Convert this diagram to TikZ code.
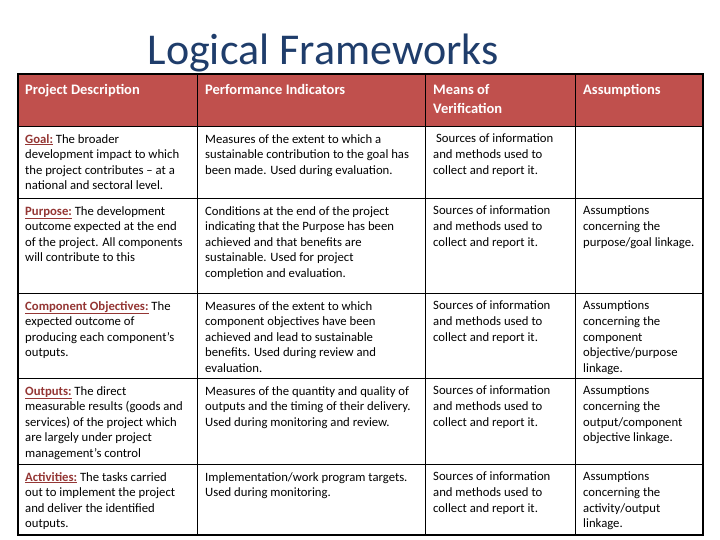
\documentclass[tikz,border=0pt]{standalone}
\usepackage{fontspec}
\setmainfont{Carlito}
\definecolor{hdr}{HTML}{C0504D}
\definecolor{ttl}{HTML}{1F3D6B}
\definecolor{lab}{HTML}{943634}
\begin{document}
\begin{tikzpicture}[x=1pt,y=-1pt,
  cell/.style={anchor=north west,inner sep=0pt,align=left,font=\fontsize{12.7}{15.6}\selectfont},
  head/.style={anchor=north west,inner sep=0pt,align=left,text=white,font=\bfseries\fontsize{14.5}{19}\selectfont}]
\useasboundingbox (0,0) rectangle (720,540);
\fill[white] (0,0) rectangle (720,540);
\node[text=ttl,font=\fontsize{44}{48}\selectfont] (title) at (323,53) {Logical Frameworks};
\fill[hdr] (18,74) rectangle (703,126);
\foreach \y in {126,198,293,378,464} \draw[line width=0.8pt] (18,\y) -- (703,\y);
\foreach \x in {197,425,575} \draw[line width=0.8pt] (\x,74) -- (\x,535);
\draw[line width=2pt] (18,74) rectangle (703,535);
\newcommand{\lb}[1]{\textcolor{lab}{\bfseries\underline{#1}}}
\node[head] (h1) at (25,84) {Project Description};
\node[head] (h2) at (205,84) {Performance Indicators};
\node[head] (h3) at (433,84) {Means of\\Verification};
\node[head] (h4) at (583,84) {Assumptions};
\node[cell] (a1) at (25,134) {\lb{Goal:} The broader\\development impact to which\\the project contributes -- at a\\national and sectoral level.};
\node[cell] (a2) at (205,134) {Measures of the extent to which a\\sustainable contribution to the goal has\\been made. Used during evaluation.};
\node[cell] (a3) at (433,134) {\ Sources of information\\and methods used to\\collect and report it.};
\node[cell] (b1) at (25,206) {\lb{Purpose:} The development\\outcome expected at the end\\of the project. All components\\will contribute to this};
\node[cell] (b2) at (205,206) {Conditions at the end of the project\\indicating that the Purpose has been\\achieved and that benefits are\\sustainable. Used for project\\completion and evaluation.};
\node[cell] (b3) at (433,206) {Sources of information\\and methods used to\\collect and report it.};
\node[cell] (b4) at (583,206) {Assumptions\\concerning the\\purpose/goal linkage.};
\node[cell] (c1) at (25,301) {\lb{Component Objectives:} The\\expected outcome of\\producing each component's\\outputs.};
\node[cell] (c2) at (205,301) {Measures of the extent to which\\component objectives have been\\achieved and lead to sustainable\\benefits. Used during review and\\evaluation.};
\node[cell] (c3) at (433,301) {Sources of information\\and methods used to\\collect and report it.};
\node[cell] (c4) at (583,301) {Assumptions\\concerning the\\component\\objective/purpose\\linkage.};
\node[cell] (d1) at (25,386) {\lb{Outputs:} The direct\\measurable results (goods and\\services) of the project which\\are largely under project\\management's control};
\node[cell] (d2) at (205,386) {Measures of the quantity and quality of\\outputs and the timing of their delivery.\\Used during monitoring and review.};
\node[cell] (d3) at (433,386) {Sources of information\\and methods used to\\collect and report it.};
\node[cell] (d4) at (583,386) {Assumptions\\concerning the\\output/component\\objective linkage.};
\node[cell] (e1) at (25,472) {\lb{Activities:} The tasks carried\\out to implement the project\\and deliver the identified\\outputs.};
\node[cell] (e2) at (205,472) {Implementation/work program targets.\\Used during monitoring.};
\node[cell] (e3) at (433,472) {Sources of information\\and methods used to\\collect and report it.};
\node[cell] (e4) at (583,472) {Assumptions\\concerning the\\activity/output\\linkage.};
\end{tikzpicture}
\end{document}
